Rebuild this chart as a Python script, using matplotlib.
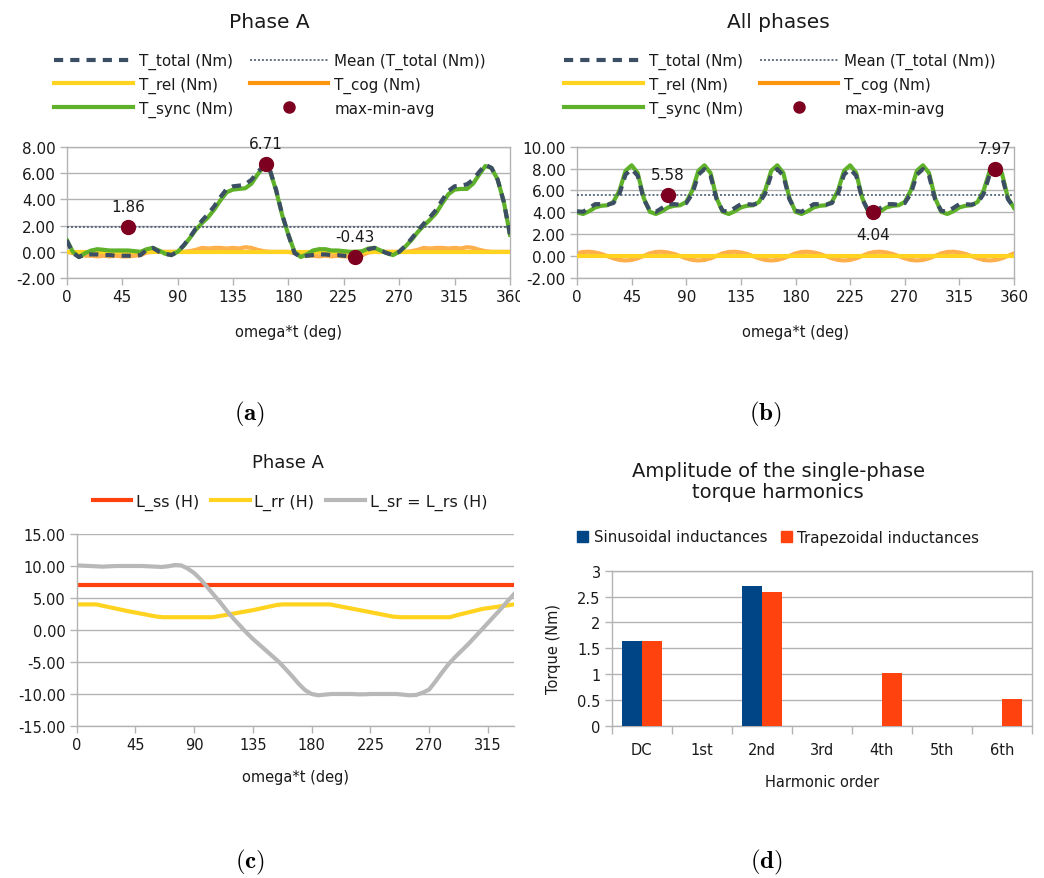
import numpy as np
import matplotlib.pyplot as plt
from matplotlib.lines import Line2D
from matplotlib.patches import Patch
from matplotlib.ticker import FormatStrFormatter, FuncFormatter
from matplotlib.transforms import Bbox, TransformedBbox

plt.rcParams["mathtext.fontset"] = "cm"

# ---------------- data ----------------
deg = np.arange(0, 361, 5)

# (a) Phase A
T_total_a = [0.9, -0.1, -0.4, -0.2, -0.2, -0.2, -0.25, -0.25, -0.3, -0.3, -0.3, -0.3, -0.25,
             0.15, 0.3, 0.0, -0.15, -0.25, 0.0, 0.5, 1.1, 1.8, 2.4, 2.9, 3.5, 4.2, 4.8,
             5.0, 5.05, 5.15, 5.5, 6.05, 6.6, 6.25, 4.75, 2.85, 1.3,
             -0.1, -0.4, -0.3, -0.25, -0.2, -0.2, -0.25, -0.25, -0.3, -0.35, -0.4, -0.25,
             0.2, 0.3, 0.1, -0.1, -0.25, 0.0, 0.45, 1.0, 1.6, 2.15, 2.65, 3.2, 3.95, 4.65,
             5.0, 5.05, 5.15, 5.5, 6.1, 6.65, 6.4, 5.5, 3.8, 1.3]
T_sync_a = [0.9, 0.0, -0.4, -0.1, 0.1, 0.2, 0.15, 0.1, 0.1, 0.1, 0.1, 0.05, 0.0,
            0.2, 0.3, 0.1, -0.15, -0.25, 0.0, 0.45, 1.05, 1.7, 2.2, 2.65, 3.25, 3.95, 4.55,
            4.75, 4.8, 4.85, 5.2, 5.9, 6.5, 6.2, 4.7, 2.8, 1.3,
            0.0, -0.4, -0.2, 0.1, 0.2, 0.2, 0.1, 0.1, 0.05, 0.0, 0.0, 0.05,
            0.25, 0.3, 0.1, -0.1, -0.25, 0.0, 0.4, 0.9, 1.5, 2.0, 2.45, 2.95, 3.7, 4.4,
            4.75, 4.8, 4.8, 5.2, 5.9, 6.55, 6.4, 5.5, 3.8, 1.3]
T_cog_a = [0.0, -0.1, -0.2, -0.3, -0.3, -0.35, -0.3, -0.35, -0.3, -0.35, -0.35, -0.3, -0.25,
           -0.05, 0.0, 0.0, 0.0, 0.0, 0.0, 0.0, 0.05, 0.15, 0.3, 0.25, 0.3, 0.3, 0.25,
           0.3, 0.25, 0.35, 0.3, 0.15, 0.05, 0.0, 0.0, 0.0, 0.0,
           -0.1, -0.2, -0.3, -0.3, -0.35, -0.3, -0.35, -0.3, -0.35, -0.35, -0.3, -0.25,
           -0.05, 0.0, 0.0, 0.0, 0.0, 0.0, 0.0, 0.05, 0.15, 0.3, 0.25, 0.3, 0.3, 0.25,
           0.3, 0.25, 0.35, 0.3, 0.15, 0.05, 0.0, 0.0, 0.0, 0.0]
mean_a = 1.86
mark_x_a = [50, 162, 234]
mark_y_a = [1.86, 6.71, -0.43]

# (b) All phases
T_total_b = [4.1, 4.05, 4.4, 4.75, 4.75, 4.7, 4.85, 5.7, 7.45, 7.95, 7.35, 5.2,
             4.15, 4.05, 4.4, 4.75, 4.75, 4.7, 4.85, 5.7, 7.45, 7.95, 7.35, 5.2,
             4.15, 4.05, 4.4, 4.75, 4.75, 4.7, 4.85, 5.7, 7.45, 7.95, 7.35, 5.2,
             4.15, 4.05, 4.4, 4.75, 4.75, 4.7, 4.85, 5.7, 7.45, 7.95, 7.35, 5.2,
             4.15, 4.04, 4.4, 4.75, 4.75, 4.7, 4.85, 5.7, 7.45, 7.95, 7.35, 5.2,
             4.15, 4.05, 4.4, 4.75, 4.75, 4.7, 4.85, 5.7, 7.45, 7.97, 7.35, 5.2, 4.45]
T_sync_b = [4.0, 3.85, 4.1, 4.45, 4.6, 4.65, 4.95, 6.0, 7.8, 8.3, 7.6, 5.3,
            4.05, 3.85, 4.1, 4.45, 4.6, 4.65, 4.95, 6.0, 7.8, 8.3, 7.6, 5.3,
            4.05, 3.85, 4.1, 4.45, 4.6, 4.65, 4.95, 6.0, 7.8, 8.3, 7.6, 5.3,
            4.05, 3.85, 4.1, 4.45, 4.6, 4.65, 4.95, 6.0, 7.8, 8.3, 7.6, 5.3,
            4.05, 3.85, 4.1, 4.45, 4.6, 4.65, 4.95, 6.0, 7.8, 8.3, 7.6, 5.3,
            4.05, 3.85, 4.1, 4.45, 4.6, 4.65, 4.95, 6.0, 7.8, 8.3, 7.6, 5.3, 4.4]
T_cog_b = [0.25, 0.38, 0.4, 0.33, 0.2, 0.0, -0.2, -0.35, -0.4, -0.35, -0.2, 0.02,
           0.25, 0.38, 0.4, 0.33, 0.2, 0.0, -0.2, -0.35, -0.4, -0.35, -0.2, 0.02,
           0.25, 0.38, 0.4, 0.33, 0.2, 0.0, -0.2, -0.35, -0.4, -0.35, -0.2, 0.02,
           0.25, 0.38, 0.4, 0.33, 0.2, 0.0, -0.2, -0.35, -0.4, -0.35, -0.2, 0.02,
           0.25, 0.38, 0.4, 0.33, 0.2, 0.0, -0.2, -0.35, -0.4, -0.35, -0.2, 0.02,
           0.25, 0.38, 0.4, 0.33, 0.2, 0.0, -0.2, -0.35, -0.4, -0.35, -0.2, 0.02, 0.25]
mean_b = 5.58
mark_x_b = [75, 344, 244]
mark_y_b = [5.58, 7.97, 4.04]

# T_rel is flat at zero in both torque charts
rel_deg = [0, 360]
T_rel = [0.0, 0.0]

# (c) inductances, Phase A
deg_c = np.arange(0, 336, 5)
L_sr = [10.1, 10.05, 10.0, 9.95, 9.9, 9.95, 10.0, 10.0, 10.0, 10.0, 10.0, 9.95, 9.9, 9.85,
        9.95, 10.15, 10.1, 9.6, 8.9, 7.9, 6.7, 5.5, 4.3, 3.0, 1.8, 0.7, -0.4, -1.4, -2.3,
        -3.2, -4.1, -5.0, -6.1, -7.2, -8.4, -9.4, -10.0, -10.2, -10.1, -10.0, -10.0, -10.0,
        -10.0, -10.05, -10.05, -10.0, -10.0, -10.0, -10.0, -10.0, -10.1, -10.2, -10.15,
        -9.8, -9.3, -8.0, -6.6, -5.3, -4.2, -3.2, -2.2, -1.1, 0.0, 1.1, 2.2, 3.3, 4.5, 5.6]
rr_deg = [0, 15, 38, 61, 66, 104, 110, 135, 153, 158, 194, 199, 222, 242, 248, 286, 291, 311, 335]
L_rr = [4.0, 4.0, 3.0, 2.1, 2.0, 2.0, 2.2, 3.1, 3.9, 4.0, 4.0, 3.8, 2.9, 2.1, 2.0, 2.0, 2.3, 3.3, 4.0]
ss_deg = [0, 335]
L_ss = [7.0, 7.0]

# (d) harmonics
harmonics = ["DC", "1st", "2nd", "3rd", "4th", "5th", "6th"]
sinusoidal = [1.63, 0, 2.7, 0, 0, 0, 0]
trapezoidal = [1.63, 0, 2.59, 0, 1.02, 0, 0.51]

# ---------------- styling ----------------
W, H = 1044, 879
GRID = "#b3b3b3"
TXT = "#1a1a1a"
C_TOTAL = "#3b4e63"
C_SYNC = "#5fb12a"
C_REL = "#ffd320"
C_COG = "#ff950e"
C_MARK = "#7e0021"
C_BLUE = "#004586"
C_RED = "#ff420e"
C_GRAY = "#b8b8b8"

fig = plt.figure(figsize=(W / 100, H / 100), dpi=100)


def px_axes(left, top, right, bottom):
    return fig.add_axes([left / W, 1 - bottom / H, (right - left) / W, (bottom - top) / H])


def fx(x):
    return x / W


def fy(y):
    return 1 - y / H


def frame(ax, right=True, size=11):
    ax.grid(axis="y", color=GRID, lw=1)
    ax.set_axisbelow(True)
    for s in ax.spines.values():
        s.set_color(GRID)
        s.set_linewidth(1)
    ax.spines["right"].set_visible(right)
    ax.tick_params(color=GRID, length=5, width=1, labelcolor=TXT, labelsize=size, pad=3)


def torque(ax, total, sync, cog, mean, mx, my, offs, ylim, yticks):
    ax.plot(deg, cog, color=C_COG, lw=3, alpha=0.75, zorder=2)
    ax.plot(rel_deg, T_rel, color=C_REL, lw=3, zorder=3)
    ax.plot(deg, sync, color=C_SYNC, lw=3, zorder=4)
    ax.plot([0, 360], [mean, mean], color=C_TOTAL, lw=1.1, dashes=(1.3, 1.3), zorder=4.5)
    ax.plot(deg, total, color=C_TOTAL, lw=3, dashes=(2.2, 1.7), zorder=5)
    ax.plot(mx, my, "o", color=C_MARK, ms=10, zorder=6)
    for x, y, o in zip(mx, my, offs):
        ax.annotate(f"{y:.2f}", (x, y), xytext=(0, o), textcoords="offset points",
                    ha="center", va="center", fontsize=11, color=TXT, zorder=7,
                    annotation_clip=False)
    ax.set_xlim(0, 360)
    ax.set_ylim(*ylim)
    ax.set_xticks(range(0, 361, 45))
    ax.set_yticks(yticks)
    ax.yaxis.set_major_formatter(FormatStrFormatter("%.2f"))
    frame(ax)
    ax.set_xlabel("omega*t (deg)", fontsize=10.5, color=TXT, labelpad=14)


def torque_legend(x_left, y_top):
    h = [Line2D([], [], color=C_TOTAL, lw=3, dashes=(2.2, 1.7)),
         Line2D([], [], color=C_REL, lw=3),
         Line2D([], [], color=C_SYNC, lw=3),
         Line2D([], [], color=C_TOTAL, lw=1.1, dashes=(1.3, 1.3)),
         Line2D([], [], color=C_COG, lw=3),
         Line2D([], [], color=C_MARK, marker="o", ms=8, ls="none")]
    lab = ["T_total (Nm)", "T_rel (Nm)", "T_sync (Nm)",
           "Mean (T_total (Nm))", "T_cog (Nm)", "max-min-avg"]
    fig.legend(h, lab, ncol=2, loc="upper left", bbox_to_anchor=(fx(x_left), fy(y_top)),
               frameon=False, fontsize=10.9, handlelength=5.2, handletextpad=0.4,
               columnspacing=1.1, labelspacing=0.5, borderpad=0, borderaxespad=0,
               labelcolor=TXT)


# ---------------- (a) ----------------
ax_a = px_axes(66.7, 148, 510, 279)
torque(ax_a, T_total_a, T_sync_a, T_cog_a, mean_a, mark_x_a, mark_y_a, [15, 15, 15],
       (-2, 8), np.arange(-2, 8.1, 2))
clip = TransformedBbox(Bbox([[0, 0], [520 / W, 1]]), fig.transFigure)
for t in ax_a.xaxis.get_major_ticks():
    t.label1.set_clip_box(clip)
    t.label1.set_clip_on(True)
fig.text(fx(269), fy(22), "Phase A", fontsize=14.5, color=TXT, ha="center", va="center")
torque_legend(54, 54)

# ---------------- (b) ----------------
ax_b = px_axes(577, 147.7, 1014, 279)
torque(ax_b, T_total_b, T_sync_b, T_cog_b, mean_b, mark_x_b, mark_y_b, [15, 15, -16],
       (-2, 10), np.arange(-2, 10.1, 2))
fig.text(fx(778), fy(22), "All phases", fontsize=14.5, color=TXT, ha="center", va="center")
torque_legend(564, 54)

# ---------------- (c) ----------------
ax_c = px_axes(76.7, 535, 514, 727)
ax_c.plot(ss_deg, L_ss, color=C_RED, lw=3)
ax_c.plot(rr_deg, L_rr, color=C_REL, lw=3)
ax_c.plot(deg_c, L_sr, color=C_GRAY, lw=3)
ax_c.set_xlim(0, 335)
ax_c.set_ylim(-15, 15)
ax_c.set_xticks(range(0, 316, 45))
ax_c.set_yticks(np.arange(-15, 15.1, 5))
ax_c.yaxis.set_major_formatter(FormatStrFormatter("%.2f"))
frame(ax_c, right=False, size=10.5)
ax_c.spines["top"].set_visible(False)
ax_c.set_xlabel("omega*t (deg)", fontsize=10.5, color=TXT, labelpad=12)
fig.text(fx(288), fy(463), "Phase A", fontsize=13, color=TXT, ha="center", va="center")
fig.legend([Line2D([], [], color=C_RED, lw=3), Line2D([], [], color=C_REL, lw=3),
            Line2D([], [], color=C_GRAY, lw=3)],
           ["L_ss (H)", "L_rr (H)", "L_sr = L_rs (H)"], ncol=3, loc="center left",
           bbox_to_anchor=(fx(93), fy(503)), frameon=False, fontsize=11.5,
           handlelength=2.4, handletextpad=0.3, columnspacing=0.75, borderpad=0,
           borderaxespad=0, labelcolor=TXT)

# ---------------- (d) ----------------
ax_d = px_axes(611.7, 571.7, 1032, 726.7)
x = np.arange(len(harmonics))
ax_d.bar(x - 1 / 6, sinusoidal, width=1 / 3, color=C_BLUE, zorder=3)
ax_d.bar(x + 1 / 6, trapezoidal, width=1 / 3, color=C_RED, zorder=3)
ax_d.set_xlim(-0.5, 6.5)
ax_d.set_ylim(0, 3)
ax_d.set_yticks(np.arange(0, 3.01, 0.5))
ax_d.yaxis.set_major_formatter(FuncFormatter(lambda v, p: f"{v:g}"))
ax_d.set_xticks(x)
ax_d.set_xticklabels(harmonics)
ax_d.set_xticks(np.arange(-0.5, 6.6, 1), minor=True)
frame(ax_d, size=10.5)
ax_d.tick_params(axis="x", which="major", length=0, pad=12)
ax_d.tick_params(axis="x", which="minor", length=6, color=GRID, width=1)
ax_d.set_xlabel("Harmonic order", fontsize=10.5, color=TXT, labelpad=12)
ax_d.set_ylabel("Torque (Nm)", fontsize=10.5, color=TXT, labelpad=12)
fig.text(fx(778), fy(482), "Amplitude of the single-phase\ntorque harmonics",
         fontsize=14, color=TXT, ha="center", va="center", linespacing=1.15)
fig.legend([Patch(color=C_BLUE), Patch(color=C_RED)],
           ["Sinusoidal inductances", "Trapezoidal inductances"], ncol=2,
           loc="center left", bbox_to_anchor=(fx(577), fy(538)), frameon=False,
           fontsize=10.8, handlelength=0.75, handleheight=0.75, handletextpad=0.35,
           columnspacing=0.9, borderpad=0, borderaxespad=0, labelcolor=TXT)

# ---------------- panel letters ----------------
for lx, ly, letter in [(250, 414, "a"), (765, 414, "b"), (250, 862, "c"), (766, 862, "d")]:
    fig.text(fx(lx), fy(ly), r"$(\mathbf{%s})$" % letter, fontsize=18, color="black",
             ha="center", va="center")

fig.savefig("out.png", dpi=100, facecolor="white")
